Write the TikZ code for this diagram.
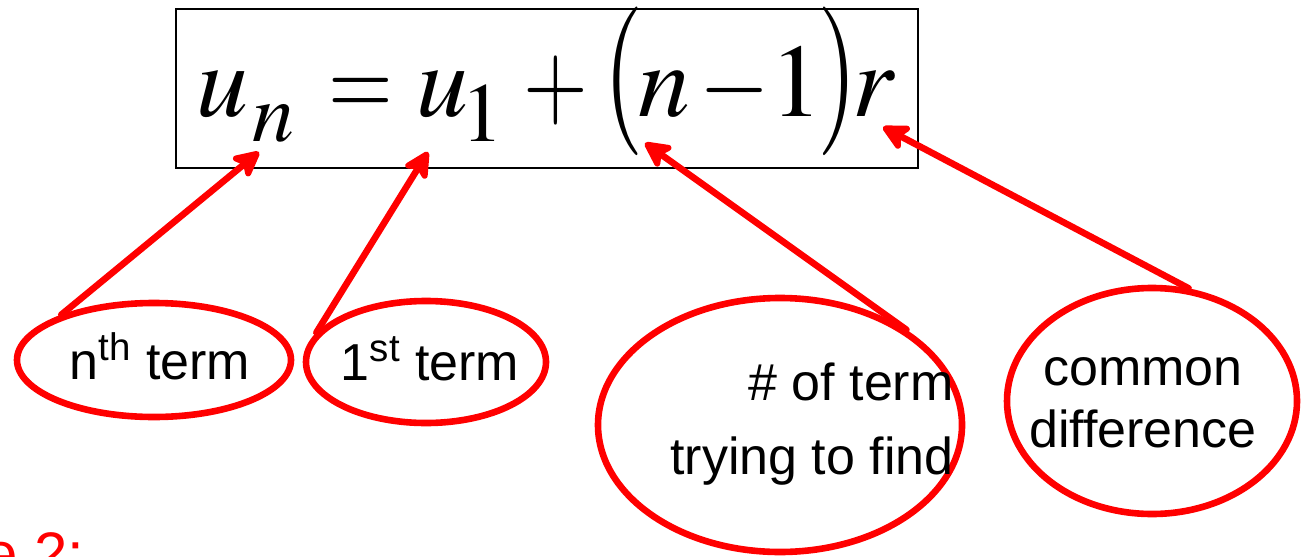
\documentclass[tikz,border=0pt]{standalone}
\usepackage{mathptmx}
\usepackage{fontspec}
\usepackage{graphicx}
\setmainfont{Liberation Sans}
\usetikzlibrary{positioning, shapes.geometric, arrows.meta}

\newcommand{\eqbig}{\fontsize{52}{52}\selectfont}
\newcommand{\eqsub}{\fontsize{42}{42}\selectfont}
\newcommand{\tallparen}[1]{\raisebox{-1pt}{\scalebox{1}[1.43]{$#1$}}}
\newcommand{\eqcell}[2]{\makebox[#1][l]{#2}}

\tikzset{
  eqframe/.style={draw, line width=1.2pt, inner sep=0pt},
  ring/.style={draw=red, line width=3.3pt, ellipse, inner sep=0pt},
  lbl/.style={inner sep=0pt, font=\fontsize{26}{31}\selectfont},
  pointer/.style={draw=red, line width=3.3pt, line cap=round,
    -{Stealth[length=16pt, width=16pt, inset=4pt, round]}},
}

\begin{document}
\begin{tikzpicture}[x=0.5pt, y=-0.5pt]
\useasboundingbox (0,0) rectangle (1304,556);
\clip (0,0) rectangle (1304,556);

% formula and its frame
\node[eqframe, minimum width=371pt, minimum height=79.5pt] (frame) at (547,88.5) {};
\node[anchor=base west, inner sep=0pt] (formula) at (196.4,116) {\eqbig
  \eqcell{28.05pt}{$u$}\eqcell{37.95pt}{\raisebox{-13pt}{\eqsub$n$}}\eqcell{44pt}{\scalebox{0.8}[1]{$=$}}%
  \eqcell{22.15pt}{$u$}\eqcell{31.35pt}{\raisebox{-13pt}{\eqsub$1$}}\eqcell{39.8pt}{\scalebox{0.8}[1]{$+$}}%
  \eqcell{17.3pt}{\tallparen{(}}\eqcell{30.95pt}{$n$}\eqcell{35.5pt}{\scalebox{0.87}[1]{$-$}}%
  \eqcell{23.25pt}{$1$}\eqcell{17.3pt}{\tallparen{)}}$r$};

% the four labels
\node[ring, minimum width=137pt, minimum height=57pt] (nthring) at (154,360) {};
\node[lbl, anchor=base] (nthtxt) at (160,379) {n\textsuperscript{th} term};

\node[ring, minimum width=120pt, minimum height=61pt] (firstring) at (426,362) {};
\node[lbl, anchor=base] (firsttxt) at (430,380) {1\textsuperscript{st} term};

\node[ring, minimum width=182pt, minimum height=127pt] (findring) at (780,425) {};
\node[lbl, align=right, anchor=east, font=\fontsize{26}{37}\selectfont] (findtxt) at (954,424) {\# of term\\trying to find};

\node[ring, minimum width=145pt, minimum height=113pt] (diffring) at (1152,401) {};
\node[lbl, align=center] (difftxt) at (1143,403) {common\\difference};

% arrow tips under the formula
\coordinate (unpt) at (259,152);
\coordinate (uonept) at (428,152);
\coordinate (npt) at (645,143);
\coordinate (rpt) at (883,127);

\draw[pointer] (nthring.154) -- (unpt);
\draw[pointer] (firstring.165) -- (uonept);
\draw[pointer] (findring.37) -- (npt);
\draw[pointer] (diffring.72) -- (rpt);

% cut-off heading at the bottom
\node[anchor=base west, inner sep=0pt, text=red, font=\fontsize{30}{30}\selectfont] (extitle) at (-16,574) {e 2:};
\end{tikzpicture}
\end{document}
